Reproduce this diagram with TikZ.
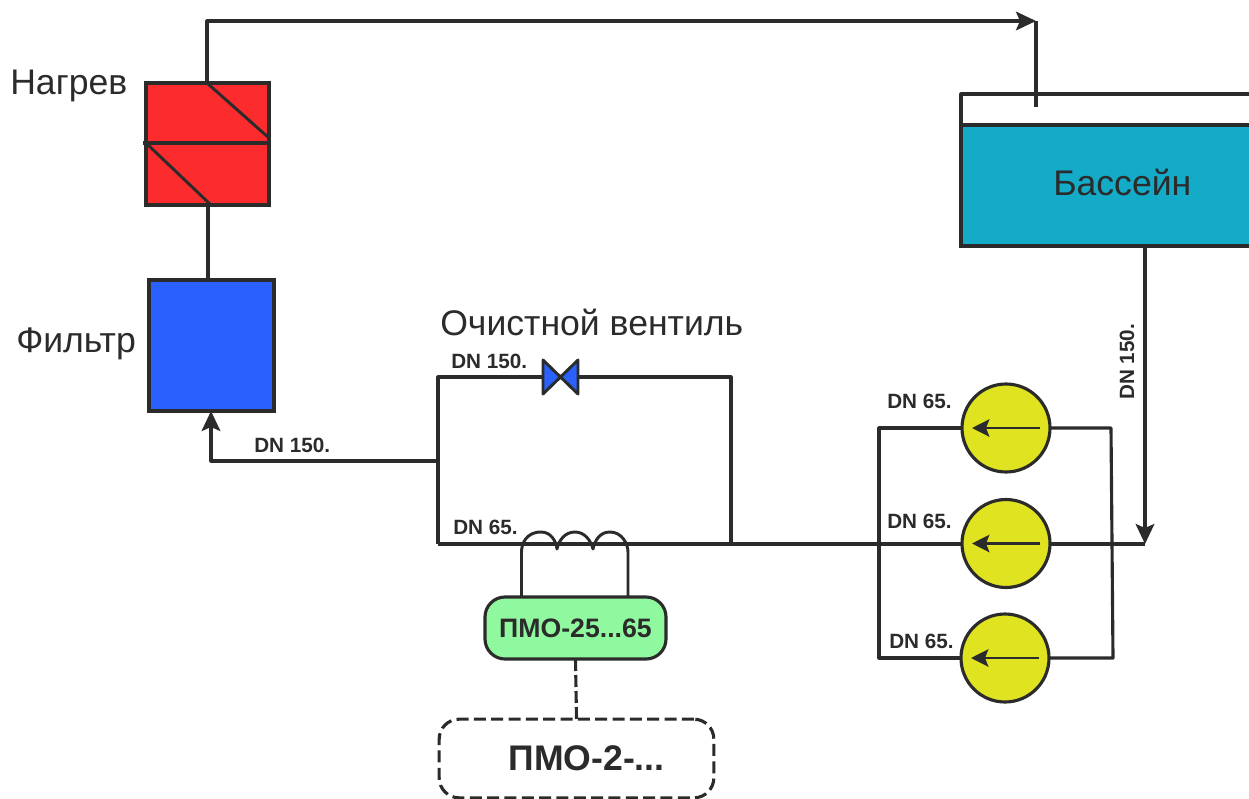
\documentclass[tikz,border=0pt]{standalone}
\usepackage{fontspec}
\setmainfont{Liberation Sans}
\usetikzlibrary{arrows.meta,calc}
\definecolor{ink}{HTML}{2B2B2B}
\definecolor{heat}{HTML}{FC2B2D}
\definecolor{filt}{HTML}{2A60FB}
\definecolor{pool}{HTML}{14ABC8}
\definecolor{pump}{HTML}{E0E320}
\definecolor{pmo}{HTML}{90F9A0}
\tikzset{
  pipe/.style={draw=ink,line width=2.35pt,line join=round},
  thinpipe/.style={draw=ink,line width=2.2pt,line join=round},
  flow/.style={pipe,-{Stealth[length=15pt,width=14pt,inset=3pt]}},
  box/.style={draw=ink,line width=2.35pt,inner sep=0pt,outer sep=0pt,anchor=north west},
  pumpc/.style={circle,draw=ink,line width=2.35pt,fill=pump,minimum size=66pt,inner sep=0pt,outer sep=0pt},
  lbl/.style={font=\fontsize{26.7pt}{29pt}\selectfont,text=ink,inner sep=0pt,anchor=base west},
  dn/.style={font=\bfseries\fontsize{15.5pt}{17pt}\selectfont,text=ink,inner sep=0pt,anchor=base west},
  pt/.style={inner sep=0pt,minimum size=0pt}
}
\begin{document}
\begin{tikzpicture}[x=0.75pt,y=-0.75pt]
\useasboundingbox (0,0) rectangle (1249,799);
\clip (0,0) rectangle (1249,799);
% heater
\node[box,fill=heat,minimum width=92.25pt,minimum height=91.5pt] (heater) at (146,83) {};
\coordinate (hm1) at (146,143);
\coordinate (hm2) at (269,143);
\coordinate (htop) at (207,83);
\coordinate (hbot) at (208,205);
\draw[pipe] (143,143) -- (hm2);
\draw[thinpipe] (htop) -- (269,138);
\draw[thinpipe] (hm1) -- (211,205);
% filter
\node[box,fill=filt,minimum width=93.75pt,minimum height=98.25pt] (filter) at (149,280) {};
\draw[pipe] (hbot) -- (208,280);
% pool
\fill[white] (961,94) rectangle (1260,125);
\draw[pipe] (1260,94) -- (961,94) -- (961,125);
\node[box,fill=pool,minimum width=240pt,minimum height=90.75pt] (pool) at (961,125) {};
\node[lbl] (poolt) at (1053,195) {Бассейн};
% top pipe
\coordinate (tc) at (1036,21);
\coordinate (pin) at (1036,107);
\draw[flow] (htop) -- (207,21) -- (tc);
\draw[pipe] (tc) -- (pin);
% junctions
\coordinate (j1) at (438,461);
\coordinate (jtl) at (438,377);
\coordinate (jbl) at (438,544);
\coordinate (jtr) at (731,377);
\coordinate (jbr) at (731,544);
\coordinate (jin) at (1145,544);
\coordinate (pout) at (1145,246);
\coordinate (fin) at (211,411);
% main pipes
\draw[flow] (j1) -- (211,461) -- (fin);
\draw[pipe] (jbl) -- (jtl) -- (543,377);
\draw[pipe] (579,377) -- (jtr) -- (jbr);
\draw[pipe] (jbl) -- (jin);
\draw[flow] (pout) -- (jin);
% valve
\node[pt] (valve) at (561,377) {};
\draw[thinpipe,fill=filt] (543,360) -- (578,394) -- (578,360) -- (543,394) -- cycle;
% pumps and rails
\node[pumpc] (p1) at (1006,428) {};
\node[pumpc] (p2) at (1006,543.5) {};
\node[pumpc] (p3) at (1005,658) {};
\draw[pipe] (p1.west) -- (879,428) -- (879,658) -- (p3.west);
\draw[pipe] (p1.east) -- (1111,428) -- (1113,658) -- (p3.east);
\foreach \p in {p1,p2,p3}{
  \draw[thinpipe,-{Stealth[length=13pt,width=13pt,inset=2.5pt]}] ([xshift=25.5pt]\p.center) -- ([xshift=-25.5pt]\p.center);
}
% coil
\draw[thinpipe,fill=none] (521.5,597) -- (521.5,552)
  .. controls (521.5,544) and (526,532) .. (541,532)
  .. controls (551,532) and (556,541) .. (557,549)
  .. controls (559,540) and (565,532) .. (575,532)
  .. controls (585,532) and (591,541) .. (593,549)
  .. controls (595,540) and (600,532) .. (610,532)
  .. controls (622,532) and (628,544) .. (628,552)
  -- (628,597);
% PMO
\node[draw=ink,line width=2.35pt,fill=pmo,rounded corners=15pt,minimum width=135.75pt,minimum height=46.5pt,inner sep=0pt,outer sep=0pt,font=\bfseries\fontsize{20pt}{22pt}\selectfont,text=ink] (pmoa) at (575.5,628) {ПМО-25...65};
\node[draw=ink,line width=2.35pt,dash pattern=on 9pt off 4pt,rounded corners=15pt,minimum width=206pt,minimum height=59pt,inner sep=0pt,outer sep=0pt,font=\bfseries\fontsize{26.7pt}{29pt}\selectfont,text=ink] (pmob) at (576.5,758.5) {\hspace{15pt}ПМО-2-...};
\draw[pipe,dash pattern=on 9pt off 3pt] (pmoa.south) -- (pmob.north);
% labels
\node[lbl] (tn) at (10,94) {Нагрев};
\node[lbl] (tf) at (16,352) {Фильтр};
\node[lbl] (tv) at (440,335) {Очистной вентиль};
\node[dn] (d1) at (451,368) {DN 150.};
\node[dn] (d2) at (254,452) {DN 150.};
\node[dn] (d3) at (453,534) {DN 65.};
\node[dn] (d4) at (887,408) {DN 65.};
\node[dn] (d5) at (887,528) {DN 65.};
\node[dn] (d6) at (889,648) {DN 65.};
\node[dn,rotate=90] (d7) at (1134,400) {DN 150.};
\end{tikzpicture}
\end{document}
